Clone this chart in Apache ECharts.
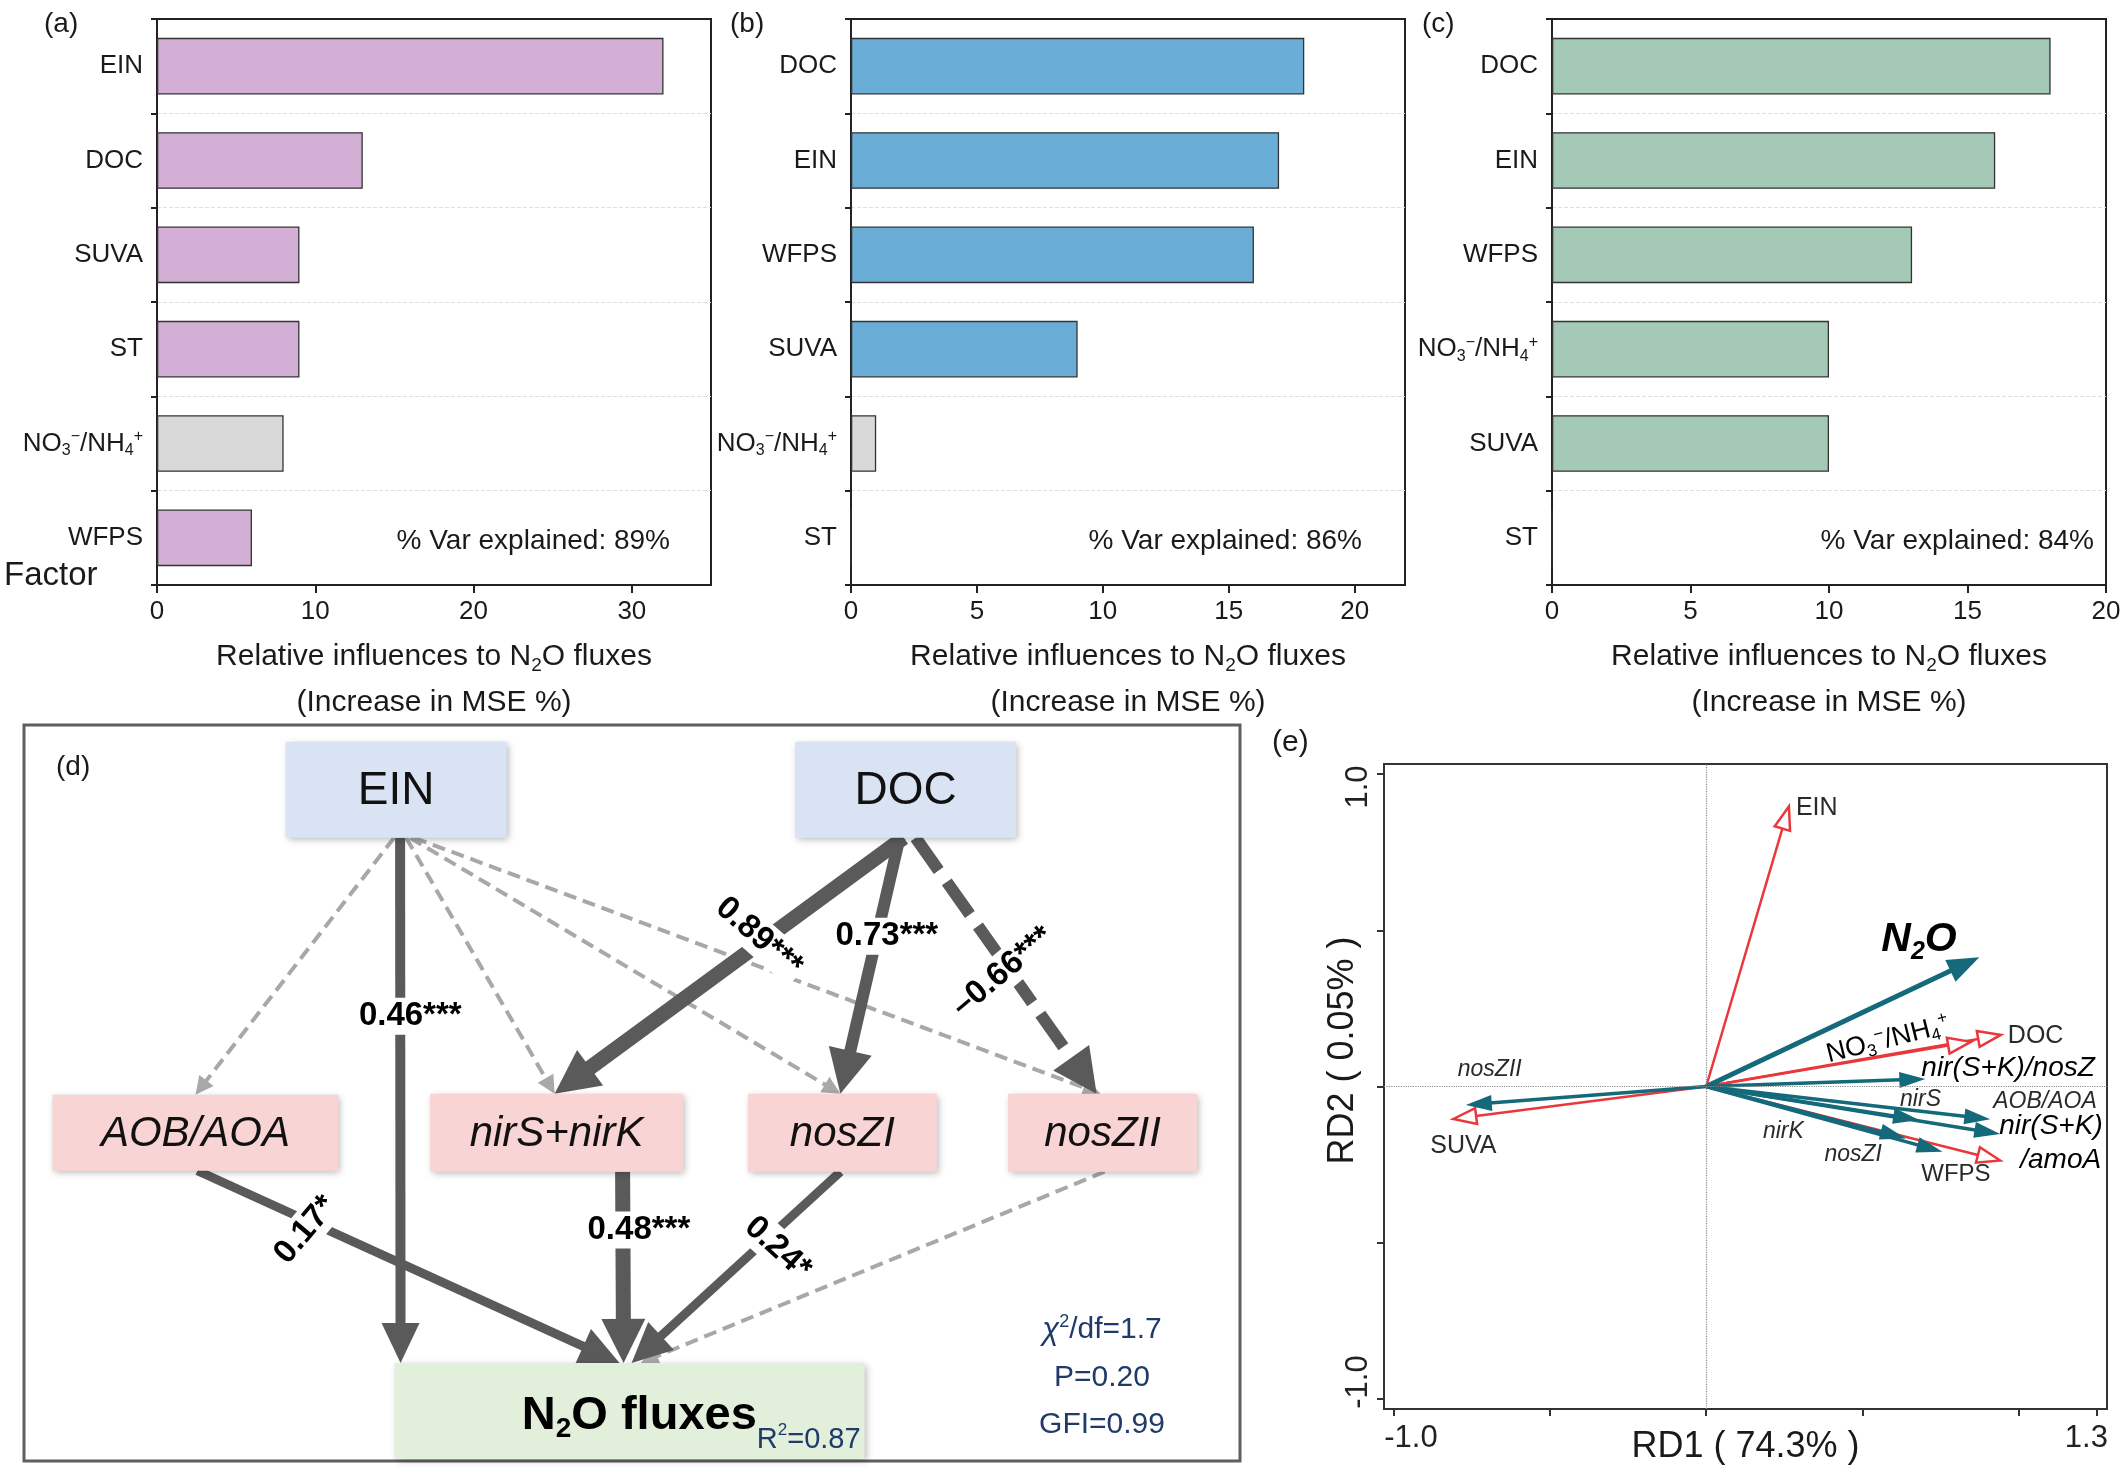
<!DOCTYPE html>
<html><head><meta charset="utf-8">
<script src="https://cdn.jsdelivr.net/npm/echarts@6/dist/echarts.min.js"></script>
<style>html,body{margin:0;padding:0;background:#fff}#c{width:2128px;height:1482px}</style>
</head><body><div id="c"></div>
<script>
// ================= DATA =================
// (a)-(c) random forest importance
const factorsA = ['EIN','DOC','SUVA','ST','NO3-/NH4+','WFPS'];
const influenceA = [32,13,9,9,8,6];
const nonSigA = [false,false,false,false,true,false];
const factorsB = ['DOC','EIN','WFPS','SUVA','NO3-/NH4+','ST'];
const influenceB = [18,17,16,9,1,0];
const nonSigB = [false,false,false,false,true,false];
const factorsC = ['DOC','EIN','WFPS','NO3-/NH4+','SUVA','ST'];
const influenceC = [18,16,13,10,10,0];
const nonSigC = [false,false,false,false,false,false];
const varExplained = [89,86,84];
const xTicksA = [0,10,20,30];
const xTicksB = [0,5,10,15,20];
const xTicksC = [0,5,10,15,20];

// (d) structural equation model
const pathNodes = ['EIN','DOC','AOB/AOA','nirS+nirK','nosZI','nosZII','N2O fluxes'];
const pathKind  = ['driver','driver','gene','gene','gene','gene','response'];
const pathFrom = ['EIN','EIN','EIN','EIN','EIN','DOC','DOC','DOC','AOB/AOA','nirS+nirK','nosZI','nosZII'];
const pathTo   = ['AOB/AOA','N2O fluxes','nirS+nirK','nosZI','nosZII','nirS+nirK','nosZI','nosZII','N2O fluxes','N2O fluxes','N2O fluxes','N2O fluxes'];
const pathCoef = [null,0.46,null,null,null,0.89,0.73,-0.66,0.17,0.48,0.24,null];
const pathSig  = ['','***','','','','***','***','***','*','***','*',''];
const modelR2 = 0.87;
const fitChi2df = 1.7, fitP = 0.20, fitGFI = 0.99;

// (e) RDA biplot
const rdaVars = ['EIN','N2O','DOC','NO3-/NH4+','nir(S+K)/nosZ','nirS','AOB/AOA','nir(S+K)/amoA','nirK','nosZI','WFPS','SUVA','nosZII'];
const rdaRD1  = [0.265,0.875,0.944,0.848,0.702,0.682,0.910,0.942,0.640,0.757,0.942,-0.810,-0.770];
const rdaRD2  = [0.896,0.414,0.165,0.143,0.024,-0.107,-0.105,-0.152,-0.166,-0.209,-0.237,-0.104,-0.059];
const rdaRole = ['env','resp','env','env','resp','resp','resp','resp','resp','resp','env','env','resp'];
const rdaAxisPct = [74.3, 0.05];
const rdaTicks = [-1,-0.5,0,0.5,1,1.25];
const rdaYTicks = [-1,-0.5,0,0.5,1];

// ================= LAYOUT / STYLE =================
const FONT = "'Liberation Sans', Arial, Helvetica, sans-serif";
const INK = '#1a1a1a';
const GREY_BAR = '#d9d9d9';
const DARK = '#5a5a5a', LIGHT = '#a8a8a8';
const TEAL = '#146a7b', RED = '#e8383c';
const NAVY = '#1f3a6b';

const layoutD = {
  pos: {'EIN':[30.6,8.8],'DOC':[72.5,8.8],'AOB/AOA':[14.1,55.4],'nirS+nirK':[43.8,55.4],'nosZI':[67.3,55.4],'nosZII':[88.7,55.4],'N2O fluxes':[49.8,93.2]},
  size: {'EIN':[221,96],'DOC':[221,96],'AOB/AOA':[286,76],'nirS+nirK':[253,78],'nosZI':[189,78],'nosZII':[189,78],'N2O fluxes':[470,96]},
  off: [[-2,0],[4,-229],[10,-2],[14,-2],[18,-2],[-2,-2],[-6,-2],[10,-6],[2,-10],[66,-6],[-2,2],[2,11]],
  width: [4,10,4,4,4,15,12,12,9,15,9,4],
  lab: [null,{t:0.34,dx:10,dy:0,rot:0},null,null,null,{t:0.40,dx:-5,dy:-3,rot:-41},{t:0.385,dx:10,dy:0,rot:0},
        {t:0.52,dx:-7,dy:1,rot:40},{t:0.256,dx:0,dy:10,rot:50},{t:0.3,dx:16,dy:1,rot:0},{t:0.4,dx:21,dy:0,rot:-42},null]
};

const rdaLab = {
 'EIN': {dx:7, dy:2, fs:25},
 'N2O': {dx:-98, dy:-17, fs:41, bold:true, italic:true, color:'#000'},
 'DOC': {dx:7, dy:1, fs:25},
 'NO3-/NH4+': {dx:-83, dy:-2, fs:27, rot:14, align:'center', color:'#000'},
 'nir(S+K)/nosZ': {dx:-4, dy:-11, fs:28, italic:true, color:'#000'},
 'nirS': {dx:-19, dy:-20, fs:23, italic:true},
 'AOB/AOA': {dx:3, dy:-18, fs:23, italic:true},
 'nir(S+K)/amoA': {split:'/amoA', lines:[[-1,-8],[20,26]], fs:28, italic:true, color:'#000'},
 'nirK': {dx:-143, dy:-7, fs:23, italic:true},
 'nosZI': {dx:-118, dy:3, fs:23, italic:true},
 'WFPS': {dx:-79, dy:14, fs:24},
 'SUVA': {dx:-23, dy:27, fs:25},
 'nosZII': {dx:-8, dy:-35, fs:23, italic:true}
};

// ================= HELPERS =================
const chemRich = (fs) => ({
  n:{fontSize:fs, fontFamily:FONT, color:INK},
  b:{fontSize:Math.round(fs*0.62), fontFamily:FONT, color:INK, padding:[Math.round(fs*0.55),0,0,0]},
  p:{fontSize:Math.round(fs*0.62), fontFamily:FONT, color:INK, padding:[0,0,Math.round(fs*0.55),0]}
});
function factorLabel(v){
  return v === 'NO3-/NH4+' ? '{n|NO}{b|3}{p|\u2212}{n|/NH}{b|4}{p|+}' : v;
}
const nameRich = {
  t:{fontSize:30, fontFamily:FONT, color:INK, lineHeight:46},
  s:{fontSize:19, fontFamily:FONT, color:INK, lineHeight:46, padding:[17,0,0,0]}
};
const xName = '{t|Relative influences to N}{s|2}{t|O fluxes}\n{t|(Increase in MSE %)}';

function barGrid(left){ return {left, top:19, width:554, height:566, show:true, borderColor:'#222', borderWidth:2, outerBoundsMode:'none', containLabel:false}; }
function barX(idx, max, interval, ticks){
  return {gridIndex:idx, type:'value', min:0, max, interval,
    axisLine:{show:true, onZero:false, lineStyle:{color:'#222', width:2}},
    axisTick:{show:true, length:8, lineStyle:{color:'#222', width:2}},
    axisLabel:{fontSize:26, color:INK, fontFamily:FONT, margin:14, showMaxLabel: ticks.indexOf(max) >= 0},
    splitLine:{show:false},
    name:xName, nameLocation:'middle', nameGap:49, nameMoveOverlap:false,
    nameTextStyle:{fontFamily:FONT, fontSize:30, color:INK, rich:nameRich, align:'center'}
  };
}
function frameTop(idx){
  return {gridIndex:idx, type:'value', position:'top', min:0, max:1,
    axisLine:{show:true, onZero:false, lineStyle:{color:'#222', width:2}},
    axisTick:{show:false}, axisLabel:{show:false}, splitLine:{show:false}};
}
function barY(idx, cats){
  return {gridIndex:idx, type:'category', data:cats, inverse:true,
    axisLine:{show:true, lineStyle:{color:'#222', width:2}},
    axisTick:{show:true, length:6, lineStyle:{color:'#222', width:2}},
    axisLabel:{fontSize:26, color:INK, fontFamily:FONT, margin:14, formatter:factorLabel, rich:chemRich(26)},
    splitLine:{show:true, lineStyle:{type:'dashed', color:'#e0e0e0', width:1}}
  };
}
function barSeries(idx, vals, ns, color){
  return {type:'bar', xAxisIndex:idx, yAxisIndex:idx, barCategoryGap:'40%', silent:true,
    data: vals.map((v,i)=>({value:v, itemStyle:{color: ns[i] ? GREY_BAR : color}})),
    itemStyle:{borderColor:'#333', borderWidth:1.3}};
}
const endLabelRich = (padLo, padHi) => ({
  lo:{fontSize:31, fontFamily:FONT, color:'#222', padding:padLo},
  hi:{fontSize:31, fontFamily:FONT, color:'#222', padding:padHi}
});
const endLabel = v => (v < 0 ? '{lo|' : '{hi|') + (+v).toFixed(1) + '}';

// path diagram helpers
function nodeBox(name, api){
  const c = api.coord(layoutD.pos[name]); const s = layoutD.size[name];
  return {x:c[0]-s[0]/2, y:c[1]-s[1]/2, w:s[0], h:s[1], cx:c[0], cy:c[1]};
}
function arrowEls(p1, p2, w, hl, hh, color, dash, z2, hollow){
  const dx = p2[0]-p1[0], dy = p2[1]-p1[1], len = Math.hypot(dx,dy);
  const ux = dx/len, uy = dy/len, nx = -uy, ny = ux;
  const bx = p2[0]-ux*hl, by = p2[1]-uy*hl;
  const ls = {stroke:color, lineWidth:w, lineCap:'butt'};
  if (dash) ls.lineDash = dash;
  const pts = [[p2[0],p2[1]],[bx+nx*hh,by+ny*hh],[bx-nx*hh,by-ny*hh]];
  return [
    {type:'line', z2, shape:{x1:p1[0],y1:p1[1],x2:bx+ux*(hollow?0:2),y2:by+uy*(hollow?0:2)}, style:ls},
    {type:'polygon', z2, shape:{points:pts}, style: hollow ? {fill:'#fff', stroke:color, lineWidth:2.5, lineJoin:'miter'} : {fill:color}}
  ];
}
function edgePts(i, api){
  const a = nodeBox(pathFrom[i], api), b = nodeBox(pathTo[i], api), o = layoutD.off[i];
  return [[a.cx+o[0], a.y+a.h], [b.cx+o[1], b.y]];
}
function rdaLabelEls(name, tip){
  const s = rdaLab[name];
  const color = s.color || '#2a2a2a';
  const base = {fontSize:s.fs, fontFamily:FONT, fill:color, fontStyle:s.italic?'italic':'normal', fontWeight:s.bold?'bold':'normal'};
  if (s.split){
    const parts = [name.slice(0, name.indexOf(s.split)), s.split];
    return parts.map((p,k)=>({type:'text', x:tip[0]+s.lines[k][0], y:tip[1]+s.lines[k][1],
      style:Object.assign({text:p, align:'left', verticalAlign:'middle'}, base)}));
  }
  let text = name, rich;
  const subSize = Math.round(s.fs*0.62), sh = Math.round(s.fs*0.55);
  const tok = (o) => Object.assign({}, base, o);
  if (name === 'N2O'){
    text = '{a|N}{b|2}{a|O}';
    rich = {a:tok({}), b:tok({fontSize:subSize, padding:[sh,0,0,0]})};
  } else if (name === 'NO3-/NH4+'){
    text = '{a|NO}{b|3}{c|\u2212}{a|/NH}{b|4}{c|+}';
    rich = {a:tok({}), b:tok({fontSize:subSize, padding:[sh,0,0,0]}), c:tok({fontSize:subSize, padding:[0,0,sh,0]})};
  }
  const st = Object.assign({text, align:s.align||'left', verticalAlign:'middle'}, base);
  if (rich) st.rich = rich;
  return [{type:'text', x:tip[0]+s.dx, y:tip[1]+s.dy, rotation:(s.rot||0)*Math.PI/180, style:st}];
}
function rdaSeries(role, z){
  const idx = rdaVars.map((v,i)=>i).filter(i=>rdaRole[i]===role);
  return {type:'custom', xAxisIndex:4, yAxisIndex:4, z, silent:true,
    data: idx.map(i=>[rdaRD1[i], rdaRD2[i], i]),
    renderItem(params, api){
      const i = api.value(2), name = rdaVars[i];
      const o = api.coord([0,0]), tip = api.coord([api.value(0), api.value(1)]);
      let els;
      if (role === 'env') els = arrowEls(o, tip, 2.5, 23, 8, RED, null, 1, true);
      else if (name === 'N2O') els = arrowEls(o, tip, 5, 32, 12, TEAL, null, 2, false);
      else els = arrowEls(o, tip, 3.5, 26, 8, TEAL, null, 2, false);
      return {type:'group', children: els.concat(rdaLabelEls(name, tip))};
    }};
}

// ================= OPTION =================
const option = {
  backgroundColor:'#fff',
  animation:false,
  textStyle:{fontFamily:FONT},
  grid:[
    barGrid(157), barGrid(851), barGrid(1552),
    {left:24, top:725, width:1216, height:736, show:true, borderColor:'#5f5f5f', borderWidth:3, outerBoundsMode:'none'},
    {left:1384, top:764, width:723, height:645, show:true, borderColor:'#333', borderWidth:2, outerBoundsMode:'none'}
  ],
  xAxis:[
    barX(0,35,10,xTicksA), barX(1,22,5,xTicksB), barX(2,20,5,xTicksC),
    {gridIndex:3, type:'value', min:0, max:100, show:false},
    {gridIndex:4, type:'value', min:-1.032, max:1.284,
      axisLine:{show:true, onZero:false, lineStyle:{color:'#333', width:2}},
      axisTick:{show:true, customValues:rdaTicks, length:7, lineStyle:{color:'#333', width:2}},
      axisLabel:{customValues:[rdaTicks[0], rdaTicks[rdaTicks.length-1]], formatter:endLabel, rich:endLabelRich([0,0,0,34],[0,20,0,0]),
        fontSize:31, color:'#222', fontFamily:FONT, margin:14},
      splitLine:{show:false},
      name:'RD1 ( ' + rdaAxisPct[0].toFixed(1) + '% )', nameLocation:'middle', nameGap:18, nameMoveOverlap:false,
      nameTextStyle:{fontSize:36, color:INK, fontFamily:FONT, lineHeight:40}},
    frameTop(0), frameTop(1), frameTop(2)
  ],
  yAxis:[
    barY(0,factorsA), barY(1,factorsB), barY(2,factorsC),
    {gridIndex:3, type:'value', min:0, max:100, inverse:true, show:false},
    {gridIndex:4, type:'value', min:-1.032, max:1.032,
      axisLine:{show:true, onZero:false, lineStyle:{color:'#333', width:2}},
      axisTick:{show:true, customValues:rdaYTicks, length:7, lineStyle:{color:'#333', width:2}},
      axisLabel:{customValues:[rdaYTicks[0], rdaYTicks[rdaYTicks.length-1]], formatter:endLabel, rich:endLabelRich([0,0,0,34],[0,26,0,0]),
        rotate:90, fontSize:31, color:'#222', fontFamily:FONT, margin:10},
      splitLine:{show:false},
      name:'RD2 ( ' + rdaAxisPct[1].toFixed(2) + '% )', nameLocation:'middle', nameGap:21, nameRotate:90, nameMoveOverlap:false,
      nameTextStyle:{fontSize:36, color:INK, fontFamily:FONT, lineHeight:40, padding:[0,0,0,72]}}
  ],
  series:[
    barSeries(0, influenceA, nonSigA, '#d3afd6'),
    barSeries(1, influenceB, nonSigB, '#6aaed7'),
    barSeries(2, influenceC, nonSigC, '#a4c9b6'),
    // (d) edges
    {type:'custom', xAxisIndex:3, yAxisIndex:3, z:2, silent:true,
      data: pathFrom.map(()=>[0,0]),
      renderItem(params, api){
        const i = params.dataIndex, [p1,p2] = edgePts(i, api), w = layoutD.width[i], c = pathCoef[i];
        let color, dash, hl, hh, z2;
        if (c === null){ color = LIGHT; dash = [13,7]; hl = 18; hh = 9; z2 = 1; }
        else { color = DARK; dash = c < 0 ? [40,14] : null; hl = w >= 12 ? 44 : 40; hh = w >= 12 ? 22 : 19; z2 = 2; }
        return {type:'group', children: arrowEls(p1, p2, w, hl, hh, color, dash, z2, false)};
      }},
    // (d) coefficient labels
    {type:'custom', xAxisIndex:3, yAxisIndex:3, z:3, silent:true,
      data: pathFrom.map(()=>[0,0]),
      renderItem(params, api){
        const i = params.dataIndex, lab = layoutD.lab[i], c = pathCoef[i];
        if (c === null || !lab) return null;
        const [p1,p2] = edgePts(i, api);
        const x = p1[0] + (p2[0]-p1[0])*lab.t + lab.dx, y = p1[1] + (p2[1]-p1[1])*lab.t + lab.dy;
        const txt = (c < 0 ? '\u2013' : '') + Math.abs(c).toFixed(2) + pathSig[i];
        return {type:'text', x, y, rotation: lab.rot*Math.PI/180,
          style:{text:txt, fontSize:33, fontWeight:'bold', fontFamily:FONT, fill:'#000', align:'center', verticalAlign:'middle',
                 backgroundColor:'#fff', padding:[2,3,2,3]}};
      }},
    // (d) nodes
    {type:'custom', xAxisIndex:3, yAxisIndex:3, z:4, silent:true,
      data: pathNodes.map(n => layoutD.pos[n]),
      renderItem(params, api){
        const name = pathNodes[params.dataIndex], kind = pathKind[params.dataIndex], r = nodeBox(name, api);
        const fill = kind === 'driver' ? '#dae3f3' : kind === 'gene' ? '#f9d4d4' : '#e2efda';
        const rect = {type:'rect', shape:{x:r.x, y:r.y, width:r.w, height:r.h},
          style:{fill, shadowBlur:7, shadowColor:'rgba(0,0,0,0.28)', shadowOffsetX:2, shadowOffsetY:2}};
        let text;
        if (kind === 'driver'){
          text = {type:'text', x:r.cx, y:r.cy+2, style:{text:name, fontSize:46, fontFamily:FONT, fill:'#111', align:'center', verticalAlign:'middle'}};
        } else if (kind === 'gene'){
          text = {type:'text', x:r.cx, y:r.cy+2, style:{text:name, fontSize:42, fontStyle:'italic', fontFamily:FONT, fill:'#111', align:'center', verticalAlign:'middle'}};
        } else {
          text = {type:'text', x:r.x+r.w-4, y:r.cy+5,
            style:{text:'{m|N}{ms|2}{m|O fluxes}{r|R}{rp|2}{r|=' + modelR2.toFixed(2) + '}', align:'right', verticalAlign:'middle',
              rich:{ m:{fontSize:47, fontWeight:'bold', fontFamily:FONT, fill:'#000'},
                     ms:{fontSize:28, fontWeight:'bold', fontFamily:FONT, fill:'#000', padding:[26,0,0,0]},
                     r:{fontSize:29, fontFamily:FONT, fill:NAVY, padding:[48,0,0,0]},
                     rp:{fontSize:17, fontFamily:FONT, fill:NAVY, padding:[28,0,0,0]} }}};
        }
        return {type:'group', children:[rect, text]};
      }},
    // (e) zero lines
    {type:'line', xAxisIndex:4, yAxisIndex:4, data:[], silent:true, showSymbol:false,
      markLine:{silent:true, symbol:'none', label:{show:false}, animation:false,
        lineStyle:{type:'dotted', color:'#8a8a8a', width:1.2}, data:[{xAxis:0},{yAxis:0}]}},
    rdaSeries('env', 3), rdaSeries('resp', 4)
  ],
  graphic:[
    {type:'text', x:44, y:24, style:{text:'(a)', fontSize:28, fontFamily:FONT, fill:INK, verticalAlign:'middle'}},
    {type:'text', x:730, y:24, style:{text:'(b)', fontSize:28, fontFamily:FONT, fill:INK, verticalAlign:'middle'}},
    {type:'text', x:1422, y:24, style:{text:'(c)', fontSize:28, fontFamily:FONT, fill:INK, verticalAlign:'middle'}},
    {type:'text', x:4, y:576, style:{text:'Factor', fontSize:33, fontFamily:FONT, fill:INK, verticalAlign:'middle'}},
    {type:'text', x:670, y:541, style:{text:'% Var explained: ' + varExplained[0] + '%', fontSize:28, fontFamily:FONT, fill:INK, align:'right', verticalAlign:'middle'}},
    {type:'text', x:1362, y:541, style:{text:'% Var explained: ' + varExplained[1] + '%', fontSize:28, fontFamily:FONT, fill:INK, align:'right', verticalAlign:'middle'}},
    {type:'text', x:2094, y:541, style:{text:'% Var explained: ' + varExplained[2] + '%', fontSize:28, fontFamily:FONT, fill:INK, align:'right', verticalAlign:'middle'}},
    {type:'text', x:56, y:767, style:{text:'(d)', fontSize:28, fontFamily:FONT, fill:INK, verticalAlign:'middle'}},
    {type:'text', x:1272, y:743, style:{text:'(e)', fontSize:30, fontFamily:FONT, fill:INK, verticalAlign:'middle'}},
    {type:'text', x:1102, y:1330, style:{text:'{c|\u03C7}{s|2}{t|/df=' + fitChi2df.toFixed(1) + '}', align:'center', verticalAlign:'middle',
      rich:{c:{fontSize:31, fontStyle:'italic', fontFamily:FONT, fill:NAVY}, s:{fontSize:18, fontFamily:FONT, fill:NAVY, padding:[0,0,16,0]}, t:{fontSize:30, fontFamily:FONT, fill:NAVY}}}},
    {type:'text', x:1102, y:1378, style:{text:'P=' + fitP.toFixed(2), fontSize:30, fontFamily:FONT, fill:NAVY, align:'center', verticalAlign:'middle'}},
    {type:'text', x:1102, y:1425, style:{text:'GFI=' + fitGFI.toFixed(2), fontSize:30, fontFamily:FONT, fill:NAVY, align:'center', verticalAlign:'middle'}}
  ]
};

const chart = echarts.init(document.getElementById('c'), null, {renderer:'canvas'});
chart.setOption(option);
</script>
</body></html>
